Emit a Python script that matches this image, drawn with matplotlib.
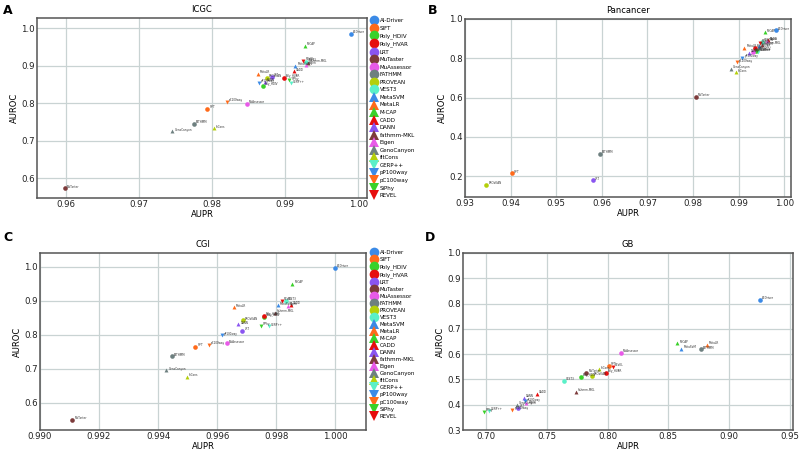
import matplotlib
matplotlib.use('Agg')
import matplotlib.pyplot as plt
from matplotlib.lines import Line2D

methods = ['AI-Driver', 'SIFT', 'Poly_HDIV', 'Poly_HVAR', 'LRT', 'MuTaster',
           'MuAssessor', 'FATHMM', 'PROVEAN', 'VEST3', 'MetaSVM', 'MetaLR',
           'M-CAP', 'CADD', 'DANN', 'fathmm-MKL', 'Eigen', 'GenoCanyon',
           'fitCons', 'GERP++', 'pP100way', 'pC100way', 'SiPhy', 'REVEL']
markers = ['o'] * 10 + ['^'] * 9 + ['v'] * 5
palette = ['#3b8ae6', '#ff6a1a', '#3ad12a', '#e60d0d', '#8a55f0',
           '#7d3b3b', '#e85ae8', '#6e8080', '#b4cf0a', '#5af0c8']
colors = [palette[i % 10] for i in range(24)]

# ICGC
icgc_aupr = [0.9990, 0.9794, 0.9870, 0.9898, 0.9882, 0.9599, 0.9848, 0.9775,
             0.9875, 0.9929, 0.9914, 0.9863, 0.9927, 0.9912, 0.9872, 0.9931,
             0.9929, 0.9746, 0.9803, 0.9908, 0.9864, 0.9820, 0.9906, 0.9925]
icgc_auroc = [0.986, 0.784, 0.846, 0.867, 0.870, 0.572, 0.798, 0.744,
              0.868, 0.911, 0.900, 0.878, 0.954, 0.885, 0.857, 0.907,
              0.903, 0.725, 0.733, 0.853, 0.855, 0.804, 0.861, 0.914]
# Pancancer
pan_aupr = [0.9982, 0.9403, 0.9938, 0.9935, 0.9580, 0.9807, 0.9931, 0.9595,
            0.9347, 0.9952, 0.9944, 0.9913, 0.9957, 0.9965, 0.9922, 0.9952,
            0.9963, 0.9883, 0.9895, 0.9942, 0.9908, 0.9896, 0.9940, 0.9947]
pan_auroc = [0.942, 0.215, 0.838, 0.853, 0.178, 0.605, 0.833, 0.314,
             0.155, 0.882, 0.862, 0.853, 0.932, 0.892, 0.826, 0.868,
             0.890, 0.746, 0.729, 0.832, 0.804, 0.779, 0.838, 0.880]
# CGI
cgi_aupr = [1.0000, 0.99526, 0.99760, 0.99758, 0.99685, 0.9911, 0.99632, 0.99446,
            0.99686, 0.99833, 0.99805, 0.99657, 0.99854, 0.99850, 0.99672, 0.99797,
            0.99840, 0.99428, 0.99499, 0.99774, 0.99615, 0.99572, 0.99749, 0.99820]
cgi_auroc = [0.998, 0.766, 0.853, 0.856, 0.813, 0.550, 0.775, 0.737,
             0.843, 0.900, 0.887, 0.881, 0.951, 0.889, 0.831, 0.866,
             0.885, 0.696, 0.676, 0.825, 0.799, 0.770, 0.826, 0.901]
# GB
gb_aupr = [0.9255, 0.8011, 0.7777, 0.7986, 0.7258, 0.7824, 0.8110, 0.8767,
           0.7871, 0.7643, 0.8607, 0.8819, 0.8574, 0.7420, 0.7310, 0.7742,
           0.7330, 0.7253, 0.7926, 0.7022, 0.7316, 0.7214, 0.6981, 0.8044]
gb_auroc = [0.814, 0.553, 0.510, 0.527, 0.388, 0.527, 0.604, 0.619,
            0.514, 0.494, 0.621, 0.638, 0.643, 0.442, 0.426, 0.452,
            0.405, 0.400, 0.540, 0.377, 0.413, 0.380, 0.373, 0.550]

W, H = 799, 451
fig = plt.figure(figsize=(W / 100, H / 100), dpi=100)


def make_ax(left, top, right, bottom):
    return fig.add_axes([left / W, 1 - bottom / H, (right - left) / W, (bottom - top) / H])


def panel(ax, xs, ys, title, xlim, ylim, xticks, yticks, xfmt, yfmt):
    ax.set_axisbelow(True)
    ax.grid(True, color='#c9d3d3', linewidth=0.9)
    for i, m in enumerate(methods):
        s = 11 if markers[i] == 'o' else 8
        ax.scatter(xs[i], ys[i], marker=markers[i], color=colors[i], s=s,
                   linewidths=0, zorder=3)
        ax.annotate(m, (xs[i], ys[i]), xytext=(1.5, 0.5), textcoords='offset points',
                    fontsize=2, color='#333333', zorder=4)
    ax.set_xlim(*xlim)
    ax.set_ylim(*ylim)
    ax.set_xticks(xticks)
    ax.set_yticks(yticks)
    ax.set_xticklabels([xfmt.format(t) for t in xticks])
    ax.set_yticklabels([yfmt.format(t) for t in yticks])
    ax.tick_params(length=0, pad=1.5, labelsize=6.2, colors='#222222')
    for sp in ax.spines.values():
        sp.set_color('#555555')
        sp.set_linewidth(1.1)
    ax.set_title(title, fontsize=6, pad=4)
    ax.set_xlabel('AUPR', fontsize=6, labelpad=0.5)
    ax.set_ylabel('AUROC', fontsize=6, labelpad=2)


axA = make_ax(37, 18, 367, 198)
panel(axA, icgc_aupr, icgc_auroc, 'ICGC', (0.9561, 1.0012), (0.5466, 1.0276),
      [0.96, 0.97, 0.98, 0.99, 1.00], [0.6, 0.7, 0.8, 0.9, 1.0], '{:.2f}', '{:.1f}')
axB = make_ax(465, 19, 791, 197)
panel(axB, pan_aupr, pan_auroc, 'Pancancer', (0.93, 1.0015), (0.094, 1.0),
      [0.93, 0.94, 0.95, 0.96, 0.97, 0.98, 0.99, 1.00], [0.2, 0.4, 0.6, 0.8, 1.0],
      '{:.2f}', '{:.1f}')
axC = make_ax(40, 253, 366, 430)
panel(axC, cgi_aupr, cgi_auroc, 'CGI', (0.990, 1.00104), (0.5206, 1.041),
      [0.990, 0.992, 0.994, 0.996, 0.998, 1.000], [0.6, 0.7, 0.8, 0.9, 1.0],
      '{:.3f}', '{:.1f}')
axD = make_ax(463, 253, 793, 430)
panel(axD, gb_aupr, gb_auroc, 'GB', (0.6808, 0.9527), (0.3, 1.0),
      [0.70, 0.75, 0.80, 0.85, 0.90, 0.95], [0.3, 0.4, 0.5, 0.6, 0.7, 0.8, 0.9, 1.0],
      '{:.2f}', '{:.1f}')

handles = [Line2D([], [], linestyle='none', marker=markers[i], color=colors[i],
                  markersize=7 if markers[i] == 'o' else 6.5, markeredgewidth=0)
           for i in range(24)]
for top, spacing in ((18, 0.46), (250, 0.37)):
    fig.legend(handles, methods, loc='upper left',
               bbox_to_anchor=(371 / W, 1 - top / H), frameon=False, fontsize=4,
               labelspacing=spacing, handlelength=1.0, handletextpad=0.6, borderpad=0,
               borderaxespad=0)

for letter, x, y in [('A', 3, 14), ('B', 428, 14), ('C', 3, 241), ('D', 425, 241)]:
    fig.text(x / W, 1 - y / H, letter, fontsize=9, fontweight='bold', va='baseline')

fig.savefig('out.png', dpi=100)
